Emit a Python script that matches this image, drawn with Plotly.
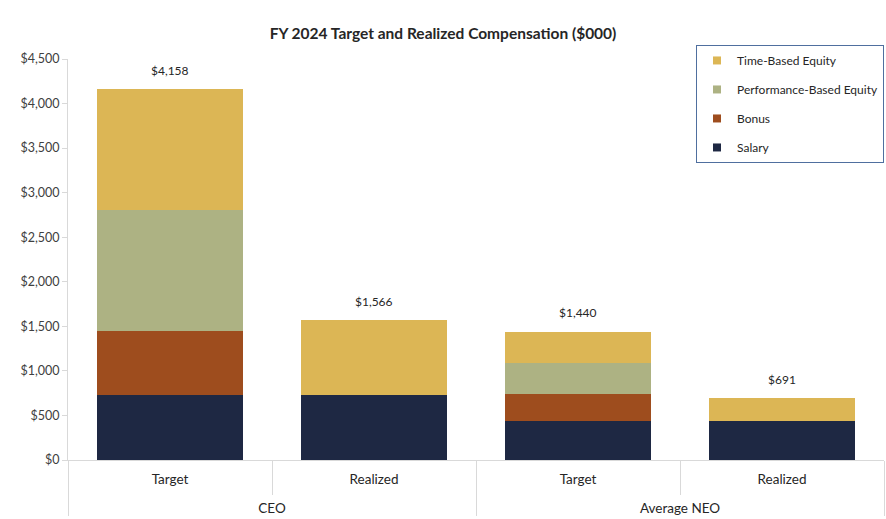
import plotly.graph_objects as go

groups = ["CEO", "CEO", "Average NEO", "Average NEO"]
kinds = ["Target", "Realized", "Target", "Realized"]

salary = [725, 725, 437, 437]
bonus = [725, 0, 305, 0]
perf_equity = [1354, 0, 345, 0]
time_equity = [1354, 841, 353, 254]
totals = [4158, 1566, 1440, 691]
total_labels = ["$4,158", "$1,566", "$1,440", "$691"]

series = [
    ("Salary", salary, "#1E2843"),
    ("Bonus", bonus, "#9E4D1E"),
    ("Performance-Based Equity", perf_equity, "#ADB283"),
    ("Time-Based Equity", time_equity, "#DCB655"),
]

FONT = "Lato, Carlito, 'Liberation Sans', sans-serif"

# outer labels pushed down one line to match the reference spacing
group_labels = ["<br>" + g for g in groups]

fig = go.Figure()
for name, vals, color in series:
    fig.add_trace(go.Bar(
        x=[group_labels, kinds], y=vals, name=name,
        marker=dict(color=color, line=dict(width=0)),
        showlegend=False, hoverinfo="skip",
    ))
for name, vals, color in reversed(series):
    fig.add_trace(go.Scatter(
        x=[None], y=[None], mode="markers", name=name,
        marker=dict(symbol="square", size=8, color=color),
        legendgroup=name, showlegend=True, hoverinfo="skip",
    ))

for i, (t, lab) in enumerate(zip(totals, total_labels)):
    fig.add_annotation(x=i, y=t, xref="x", yref="y", text=lab, showarrow=False,
                       yshift=19, font=dict(size=12, color="#262626", family=FONT))

fig.update_layout(
    barmode="stack",
    bargap=0.28,
    width=886, height=519,
    margin=dict(l=68, r=2, t=59, b=59),
    paper_bgcolor="white", plot_bgcolor="white",
    font=dict(family=FONT, size=12, color="#404040"),
    title=dict(text="<b>FY 2024 Target and Realized Compensation ($000)</b>",
               x=0.5, xanchor="center", y=0.936, yanchor="middle",
               font=dict(size=15.5, color="#262626", family=FONT)),
    legend=dict(x=1.0, xanchor="right", y=1.035, yanchor="top",
                traceorder="grouped", bordercolor="#4F6F9F", borderwidth=1,
                bgcolor="white", tracegroupgap=10,
                font=dict(size=12, color="#262626", family=FONT),
                itemwidth=30),
    showlegend=True,
)
fig.update_xaxes(
    type="multicategory",
    showline=True, linecolor="#D9D9D9", linewidth=1,
    ticks="outside", ticklen=34, tickcolor="#D9D9D9",
    ticklabelstandoff=7,
    showdividers=True, dividercolor="#D9D9D9", dividerwidth=1,
    tickfont=dict(size=13.5, color="#262626", family=FONT),
    showgrid=False,
)
fig.update_yaxes(
    range=[0, 4500], dtick=500, tickprefix="$", tickformat=",",
    showline=True, linecolor="#D9D9D9", linewidth=1,
    ticks="outside", ticklen=5, tickcolor="#D9D9D9",
    showgrid=False, zeroline=False,
    tickfont=dict(size=12.5, color="#404040", family=FONT),
)

fig.write_html("out.html", config={"displayModeBar": False},
               post_script="document.body.style.margin='0';")
